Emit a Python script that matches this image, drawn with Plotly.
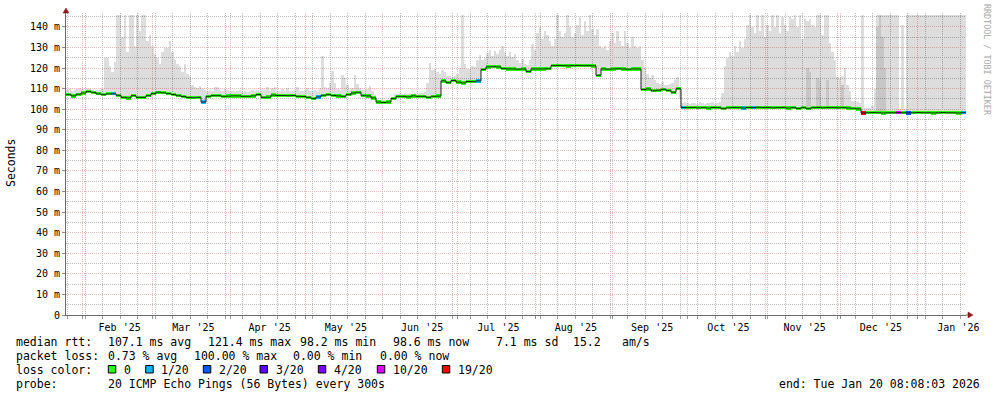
import numpy as np
import pandas as pd
import plotly.graph_objects as go

# ---------------------------------------------------------------- data
END = pd.Timestamp("2026-01-20 08:08:03")
SPAN_DAYS = 360
START = END - pd.Timedelta(days=SPAN_DAYS)

# median RTT in ms, one value per 2-day bin (180 bins)
median_ms = [
    107.1, 106.5, 107.3, 107.9, 108.6, 108.2, 107.5, 107.1, 107.5, 107.5,
    106.8, 105.8, 105.5, 106.6, 105.8, 105.8, 106.6, 107.6, 108.3, 108.0,
    107.6, 107.2, 106.6, 106.2, 105.7, 105.6, 105.8, 103.5, 106.3, 106.6,
    106.6, 106.3, 106.4, 106.5, 106.5, 106.3, 106.3, 106.5, 107.2, 105.8,
    105.9, 106.9, 106.7, 106.7, 106.6, 106.7, 106.3, 106.2, 105.8, 105.2,
    106.0, 106.8, 107.1, 106.7, 106.5, 106.3, 107.1, 107.9, 108.3, 106.6,
    106.5, 105.5, 103.5, 103.3, 103.5, 105.2, 106.3, 106.3, 106.0, 106.5,
    106.3, 106.3, 105.8, 106.3, 106.4, 113.8, 112.9, 114.0, 113.2, 112.8,
    113.5, 113.4, 113.8, 119.3, 120.6, 120.7, 120.6, 119.8, 119.6, 119.6,
    119.5, 119.6, 118.3, 119.6, 119.6, 119.6, 119.7, 121.2, 121.3, 121.2,
    121.1, 121.2, 121.3, 121.2, 121.2, 121.1, 116.5, 119.6, 119.5, 119.6,
    119.7, 119.6, 119.5, 119.6, 119.6, 109.6, 109.9, 109.0, 109.3, 109.7,
    109.2, 108.3, 110.0, 100.8, 100.8, 100.9, 100.7, 100.8, 100.6, 100.9,
    100.8, 100.3, 100.7, 100.9, 100.8, 100.6, 100.9, 100.8, 101.0, 100.8,
    100.9, 100.7, 100.8, 100.9, 100.6, 100.8, 100.4, 100.8, 100.3, 100.8,
    100.9, 100.7, 100.8, 100.8, 100.7, 100.8, 100.6, 100.5, 100.2, 98.2,
    98.3, 98.4, 98.3, 98.2, 98.3, 98.3, 98.4, 98.3, 98.2, 98.3,
    98.4, 98.3, 98.3, 98.2, 98.3, 98.4, 98.3, 98.3, 98.2, 98.3,
]

# lost pings (out of 20) for the bins that had loss; all others 0
loss_bins = [9, 27, 50, 82, 123, 135, 137, 159, 166, 168, 179]
loss_pings = [1, 1, 1, 1, 1, 1, 1, 19, 10, 2, 1]

# highest ping RTT (top of the smoke) in ms, one value per day (360 days)
smoke_top_ms = [
    109.5, 110, 109, 109.5, 110, 110.5, 110, 109.5, 110, 110,
    109.5, 109, 109.5, 109.5, 110, 125, 125, 121, 118, 123,
    146, 146, 135, 146, 128, 146, 146, 131, 146, 138,
    146, 146, 133, 136, 131, 127, 125, 122, 128, 130,
    130, 133, 128, 124, 122, 121, 118, 122, 117, 116,
    112, 111, 110.5, 111.5, 110, 109.5, 109, 109.5, 109, 111,
    111, 109.5, 109, 110, 109.5, 109, 109, 108.5, 109, 109.5,
    108.5, 109, 108.5, 109, 109.5, 109, 109.5, 108.5, 109, 109.5,
    111, 109, 110.5, 111, 109, 109, 110, 109, 110.5, 109,
    109, 109.5, 111, 109, 109, 109.5, 110.5, 109, 109, 109.5,
    109, 110.5, 126, 111, 110.5, 113, 118.5, 113, 110, 109.5,
    116.5, 115, 112, 109.5, 110.5, 116.5, 112.5, 110.5, 109.5, 109.5,
    110, 111.5, 109, 107, 105, 104.5, 104.5, 104.5, 104.5, 104.5,
    106, 107.5, 107.5, 108, 107.5, 108, 107.5, 108, 107.5, 108,
    107.5, 108, 108, 108.5, 113, 122.5, 119, 119.5, 118, 117,
    119, 118, 116, 116, 115.5, 116, 117, 120, 146, 122,
    119.5, 119.5, 121, 120.5, 124, 126.5, 124, 125, 127.5, 129,
    126, 128.5, 127, 129, 131, 128, 126, 128, 125.5, 127,
    124, 122.5, 124.5, 122, 121.5, 124, 131.5, 129, 137, 140,
    134, 138, 136, 133, 131, 134, 146, 138, 135, 137,
    146, 140, 135, 137, 141, 145, 136, 143, 138, 146,
    139, 136, 139, 131, 130, 131, 129, 133, 137, 132,
    138, 133, 131, 138, 132, 130, 135, 131, 130, 131,
    124, 120, 117, 115, 116.5, 114, 113, 112.5, 113.5, 112,
    112, 112.5, 113, 114, 115.5, 105, 103, 103.5, 103, 102.5,
    103, 103, 102.5, 103.5, 103, 102.5, 103, 103, 103.5, 102.5,
    103, 103.5, 108, 121, 125, 128, 126, 131, 128, 133,
    130, 134, 141, 146, 140, 137, 146, 138, 146, 135,
    141, 138, 146, 140, 146, 137, 145, 141, 138, 145,
    144, 146, 140, 146, 134, 144, 143, 144, 141, 140,
    146, 146, 136, 146, 146, 132, 128, 124, 115.6, 115,
    112, 120, 112, 108.8, 104, 104, 103.5, 103, 146, 100.5,
    100.5, 100.5, 101.5, 110, 146, 146, 146, 146, 146, 146,
    146, 146, 146, 100, 141, 100, 146, 146, 146, 146,
    146, 146, 146, 146, 146, 146, 146, 146, 146, 146,
    146, 146, 146, 146, 146, 146, 146, 146, 146, 146,
]

# days where the denser (darker) part of the smoke rises visibly
inner_days = [296, 297, 300, 301, 304, 310, 324, 325, 326, 327]
inner_top_ms = [120, 118, 115, 114, 114, 116, 140, 146, 135, 120]

y_tick_vals = [0, 10, 20, 30, 40, 50, 60, 70, 80, 90, 100, 110, 120, 130, 140]
y_tick_text = ["0"] + [f"{v} m" for v in y_tick_vals[1:]]

loss_levels = [0, 1, 2, 3, 4, 10, 19]
loss_labels = ["0", "1/20", "2/20", "3/20", "4/20", "10/20", "19/20"]
loss_colors = ["#26ff00", "#00b8ff", "#0059ff", "#5e00ff", "#7e00ff", "#dd00ff", "#ff0000"]

stats_rtt = ["median rtt:", "107.1 ms avg", "121.4 ms max", "98.2 ms min",
             "98.6 ms now", "7.1 ms sd", "15.2", "am/s"]
stats_loss = ["packet loss:", "0.73 % avg", "100.00 % max", "0.00 % min", "0.00 % now"]
probe_text = ["probe:", "20 ICMP Echo Pings (56 Bytes) every 300s"]
end_text = "end: Tue Jan 20 08:08:03 2026"

# ---------------------------------------------------------------- layout constants
W, H = 997, 397
L, R, T, B = 66, 31, 13, 82
PW, PH = W - L - R, H - T - B
FONT = "DejaVu Sans Mono"
DAY_MS = 86400000


def px(xp):
    return (xp - L) / PW


def py(yp):
    return (H - B - yp) / PH


n_bins = len(median_ms)
n_days = len(smoke_top_ms)
med = np.array(median_ms, dtype=float)
loss = np.zeros(n_bins, dtype=int)
for b, lp in zip(loss_bins, loss_pings):
    loss[b] = lp


def loss_color(v):
    c = loss_colors[0]
    for lvl, col in zip(loss_levels, loss_colors):
        if v >= lvl:
            c = col
    return c


bin_centers = START + pd.to_timedelta(np.arange(n_bins) * 2 + 1, unit="D")
bin_edges = START + pd.to_timedelta(np.arange(n_bins + 1) * 2, unit="D")
day_centers = START + pd.to_timedelta(np.arange(n_days) + 0.5, unit="D")

smoke_base = np.repeat(med, 2)[:n_days] - 0.5
smoke_top = np.array(smoke_top_ms, dtype=float)

fig = go.Figure()

# light smoke
fig.add_trace(go.Bar(
    x=day_centers, base=smoke_base, y=smoke_top - smoke_base,
    width=DAY_MS, marker=dict(color="rgba(0,0,0,0.135)", line=dict(width=0)),
    hoverinfo="skip", showlegend=False))

# denser smoke
inner_base = smoke_base[inner_days]
fig.add_trace(go.Bar(
    x=day_centers[inner_days], base=inner_base,
    y=np.array(inner_top_ms) - inner_base,
    width=DAY_MS, marker=dict(color="rgba(0,0,0,0.10)", line=dict(width=0)),
    hoverinfo="skip", showlegend=False))

# thin median line
fig.add_trace(go.Scatter(
    x=bin_edges, y=np.append(med, med[-1]), mode="lines",
    line=dict(color="#202020", width=1, shape="hv"),
    hoverinfo="skip", showlegend=False))

# loss-coloured median band
fig.add_trace(go.Bar(
    x=bin_centers, base=med - 0.8, y=np.full(n_bins, 1.6),
    width=2 * DAY_MS,
    marker=dict(color=[loss_color(v) for v in loss], line=dict(width=0)),
    hoverinfo="skip", showlegend=False))

GRID_RED = "#efbcbc"
GRID_GRAY = "#bdbdbd"
AXIS_COL = "#6a6a6a"

fig.update_layout(
    width=W, height=H,
    margin=dict(l=L, r=R, t=T, b=B, pad=0),
    paper_bgcolor="white", plot_bgcolor="white",
    barmode="overlay", bargap=0,
    font=dict(family=FONT, size=10, color="black"),
    showlegend=False,
    xaxis=dict(
        type="date", range=[START, END],
        tick0="2025-02-01", dtick="M1", tickformat="%b '%y",
        ticklabelmode="period", ticklabelshift=2,
        showgrid=True, gridcolor=GRID_RED, griddash="1px,1px", gridwidth=1,
        ticks="outside", ticklen=3, tickcolor="#909090",
        showline=True, linecolor=AXIS_COL, linewidth=1,
        zeroline=False, layer="above traces",
        tickfont=dict(family=FONT, size=10, color="black"),
        minor=dict(dtick=7 * DAY_MS, tick0="2025-02-02", showgrid=True,
                   gridcolor=GRID_GRAY, griddash="1px,1px", gridwidth=1,
                   ticks="outside", ticklen=3, tickcolor="#a0a0a0"),
    ),
    yaxis=dict(
        range=[0, 146.8], tickmode="array", tickvals=y_tick_vals, ticktext=y_tick_text,
        showgrid=True, gridcolor=GRID_RED, griddash="1px,1px", gridwidth=1,
        ticks="outside", ticklen=3, tickcolor="#909090",
        showline=True, linecolor=AXIS_COL, linewidth=1,
        zeroline=False, layer="above traces",
        tickfont=dict(family=FONT, size=10, color="black"),
        minor=dict(dtick=5, showgrid=True, gridcolor=GRID_GRAY,
                   griddash="1px,1px", gridwidth=1),
    ),
)

shapes = []
# axis arrows
shapes.append(dict(type="path", xref="paper", yref="paper", xsizemode="pixel",
                   ysizemode="pixel", xanchor=0, yanchor=1,
                   path="M -3,0 L 3,0 L 0,5 Z", fillcolor="#8b1a1a",
                   line=dict(color="#8b1a1a", width=0.5)))
shapes.append(dict(type="path", xref="paper", yref="paper", xsizemode="pixel",
                   ysizemode="pixel", xanchor=1, yanchor=0,
                   path="M 0,0 L 2,0", line=dict(color=AXIS_COL, width=1)))
shapes.append(dict(type="path", xref="paper", yref="paper", xsizemode="pixel",
                   ysizemode="pixel", xanchor=1, yanchor=0,
                   path="M 2,3 L 2,-3 L 7,0 Z", fillcolor="#8b1a1a",
                   line=dict(color="#8b1a1a", width=0.5)))

annotations = []


def txt(s, xp, yp, size=11.5, color="black", anchor="left", angle=0):
    annotations.append(dict(text=s, x=px(xp), y=py(yp), xref="paper", yref="paper",
                            xanchor=anchor, yanchor="middle", showarrow=False,
                            textangle=angle, borderpad=0,
                            font=dict(family=FONT, size=size, color=color)))


# y axis title and watermark
txt("Seconds", 11, 163, size=11.5, anchor="center", angle=-90)
txt("RRDTOOL / TOBI OETIKER", 987, 60, size=8.4, color="#a8a8a8", anchor="center", angle=90)

# statistics lines
for s, xp in zip(stats_rtt, [15, 106.5, 206.5, 298.5, 391.5, 494.5, 572, 621]):
    txt(s, xp, 341.5)
for s, xp in zip(stats_loss, [15, 106.5, 192.5, 291.5, 378.5]):
    txt(s, xp, 355.5)
txt("loss color:", 15, 369.5)
box_x = [108.3, 145.7, 203.3, 260, 318.3, 377.3, 442.3]
for lab, col, bx in zip(loss_labels, loss_colors, box_x):
    shapes.append(dict(type="rect", xref="paper", yref="paper",
                       x0=px(bx), x1=px(bx + 7.5), y0=py(373), y1=py(365.5),
                       fillcolor=col, line=dict(color="black", width=1)))
    txt(lab, bx + 14.5, 369.5)
txt(probe_text[0], 15, 383.5)
txt(probe_text[1], 106.5, 383.5)
txt(end_text, 777.5, 383.5)

fig.update_layout(shapes=shapes, annotations=annotations)

fig.write_html("out.html")
